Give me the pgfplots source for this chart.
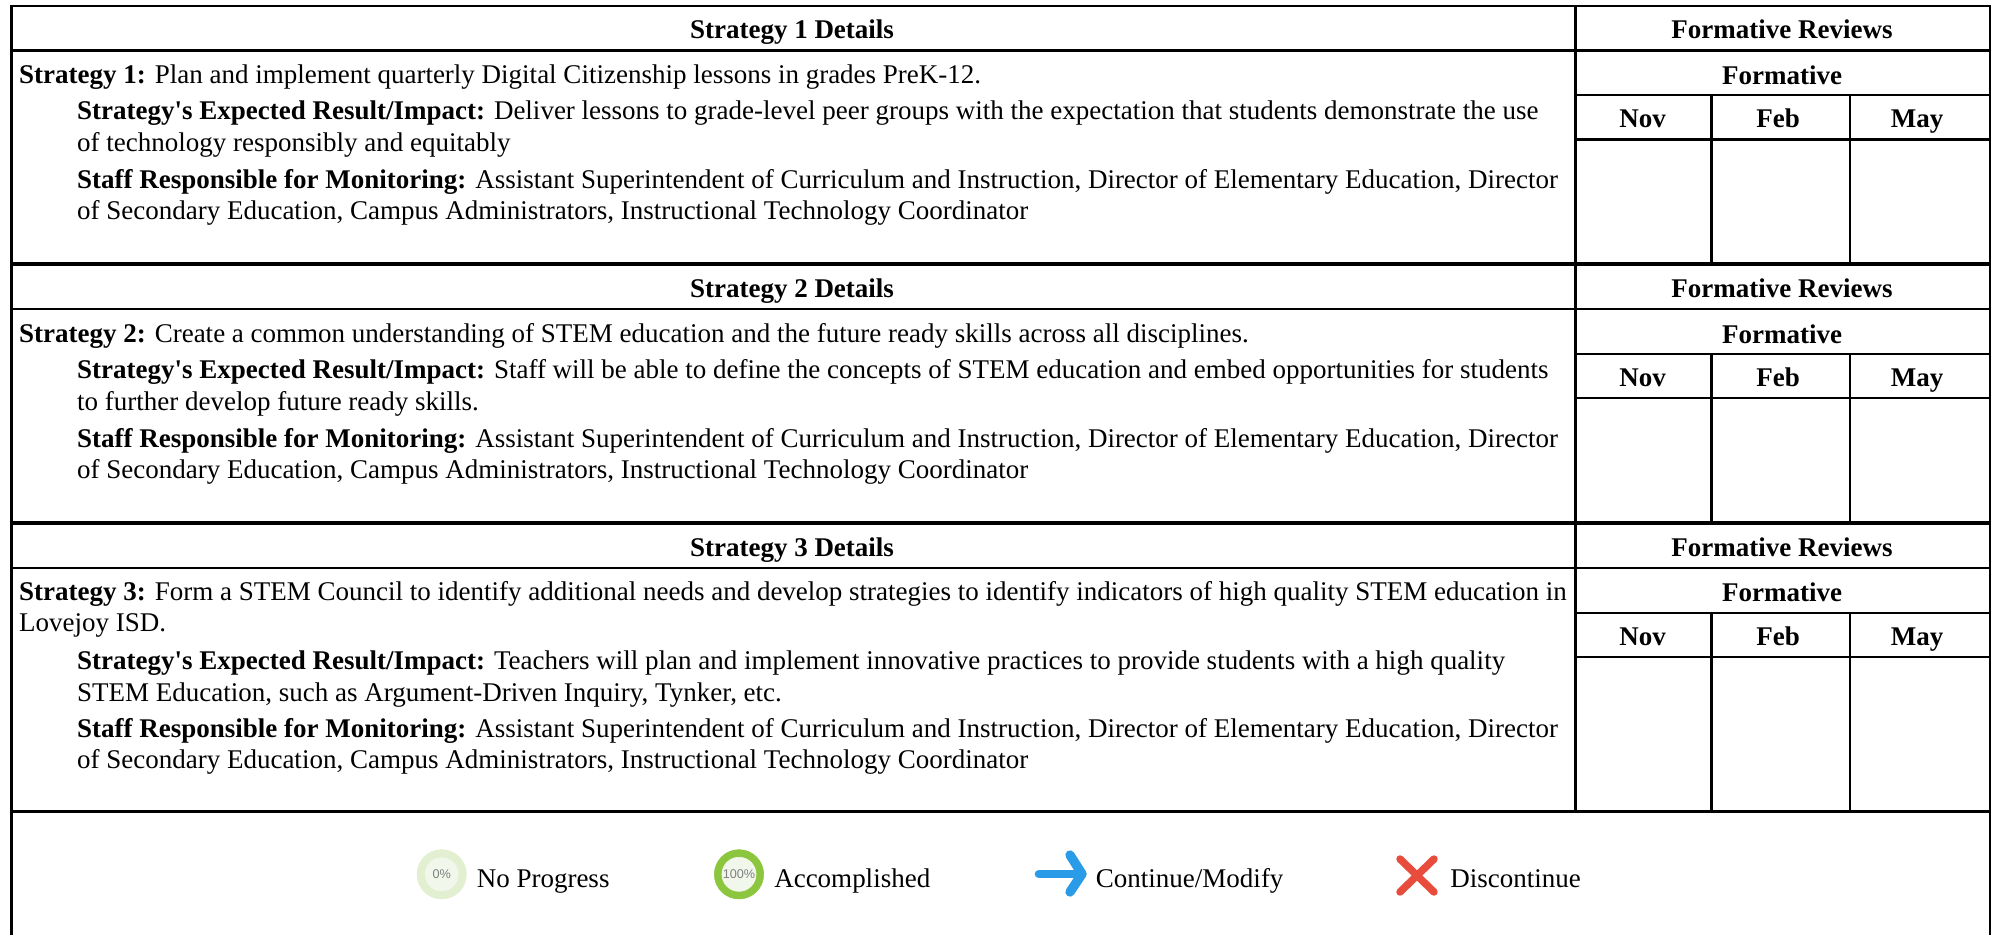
\documentclass[border=0pt]{standalone}
\usepackage{pgfplots}
\pgfplotsset{compat=1.18}
\usepackage{fontspec}
\setmainfont{Liberation Serif}
\newfontfamily\rawf{Liberation Serif}
\newfontfamily\sansf{Liberation Sans}
\definecolor{ringA}{HTML}{E2EFD0}
\definecolor{ringB}{HTML}{8CC63F}
\definecolor{inner}{HTML}{F1F7EA}
\definecolor{arrowc}{HTML}{2A9BE6}
\definecolor{crossc}{HTML}{E74C3C}
\definecolor{pctc}{HTML}{808080}
\newcommand{\Hl}[4]{\addplot[black,line width=#4*0.75pt,forget plot] coordinates {(#1,#3)(#2,#3)};}
\newcommand{\Vl}[4]{\addplot[black,line width=#4*0.75pt,forget plot] coordinates {(#3,#1)(#3,#2)};}
\newcommand{\Tx}[3]{\node[anchor=base west,inner sep=0pt,font=\rawf\fontsize{20.25}{24}\selectfont] at (axis cs:#1,#2) {#3};}
\newcommand{\Tc}[3]{\node[anchor=base,inner sep=0pt,font=\rawf\fontsize{20.25}{24}\selectfont\bfseries] at (axis cs:#1,#2) {#3};}
\newcommand{\Block}[8]{% top, hdr bottom, form line, months bottom, block bottom, title, hdr base, base of formative
  \Hl{1575.5}{1990}{#3}{2.4}
  \Hl{1575.5}{1990}{#4}{2.4}
  \Hl{11.5}{1990}{#2}{2.4}
  \Vl{#3}{#5}{1711.5}{2.2}
  \Vl{#3}{#5}{1850}{2.2}
  \Tc{792}{#7}{#6}
  \Tc{1782}{#7}{Formative Reviews}
  \Tc{1782}{#8}{Formative}
}
\pgfplotsset{pct/.style={only marks,mark=*,nodes near coords={#1},
  every node near coord/.style={anchor=center,inner sep=0pt,text=pctc,font=\sansf\fontsize{9.5}{10}\selectfont},
  forget plot}}
\begin{document}
\begin{tikzpicture}
\begin{axis}[
  width=1494.75pt,height=701.25pt,scale only axis,
  xmin=0,xmax=1993,ymin=0,ymax=935,y dir=reverse,
  hide axis,clip=false]
\addplot[draw=none,fill=white,forget plot] coordinates {(0,0)(1993,0)(1993,935)(0,935)};
% outer frame and rules
\Vl{5}{935}{11.5}{2.4}
\Vl{5}{935}{1990}{2.4}
\Vl{5}{812}{1575.5}{2.4}
\Hl{10.5}{1991}{6}{2.4}
\Hl{10.5}{1991}{263.5}{4}
\Hl{10.5}{1991}{522.5}{4}
\Hl{10.5}{1991}{811.7}{3}
% block 1
\Block{6}{50.5}{95}{139.5}{263.5}{Strategy 1 Details}{38.2}{84}
\Tc{1642.5}{127.7}{Nov}\Tc{1778}{127.7}{Feb}\Tc{1917}{127.7}{May}
\Tx{18.8}{83}{\textbf{Strategy 1:} Plan and implement quarterly Digital Citizenship lessons in grades PreK-12.}
\Tx{76.8}{119.8}{\textbf{Strategy's Expected Result/Impact:} Deliver lessons to grade-level peer groups with the expectation that students demonstrate the use}
\Tx{76.8}{151.3}{of technology responsibly and equitably}
\Tx{76.8}{188.2}{\textbf{Staff Responsible for Monitoring:} Assistant Superintendent of Curriculum and Instruction, Director of Elementary Education, Director}
\Tx{76.8}{219.3}{of Secondary Education, Campus Administrators, Instructional Technology Coordinator}
% block 2
\Block{265}{309}{354}{398}{522.5}{Strategy 2 Details}{297.2}{343}
\Tc{1642.5}{386.7}{Nov}\Tc{1778}{386.7}{Feb}\Tc{1917}{386.7}{May}
\Tx{18.8}{342}{\textbf{Strategy 2:} Create a common understanding of STEM education and the future ready skills across all disciplines.}
\Tx{76.8}{378.5}{\textbf{Strategy's Expected Result/Impact:} Staff will be able to define the concepts of STEM education and embed opportunities for students}
\Tx{76.8}{410}{to further develop future ready skills.}
\Tx{76.8}{447.2}{\textbf{Staff Responsible for Monitoring:} Assistant Superintendent of Curriculum and Instruction, Director of Elementary Education, Director}
\Tx{76.8}{478.7}{of Secondary Education, Campus Administrators, Instructional Technology Coordinator}
% block 3
\Block{524}{567.7}{613}{657}{811.7}{Strategy 3 Details}{556.2}{601}
\Tc{1642.5}{645.3}{Nov}\Tc{1778}{645.3}{Feb}\Tc{1917}{645.3}{May}
\Tx{18.8}{600}{\textbf{Strategy 3:} Form a STEM Council to identify additional needs and develop strategies to identify indicators of high quality STEM education in}
\Tx{18.8}{631}{Lovejoy ISD.}
\Tx{76.8}{669.2}{\textbf{Strategy's Expected Result/Impact:} Teachers will plan and implement innovative practices to provide students with a high quality}
\Tx{76.8}{701}{STEM Education, such as Argument-Driven Inquiry, Tynker, etc.}
\Tx{76.8}{737.2}{\textbf{Staff Responsible for Monitoring:} Assistant Superintendent of Curriculum and Instruction, Director of Elementary Education, Director}
\Tx{76.8}{768.7}{of Secondary Education, Campus Administrators, Instructional Technology Coordinator}
% legend
\addplot[ringA,only marks,mark=*,mark size=18.5pt,forget plot] coordinates {(441.7,874.3)};
\addplot[inner,pct={0\%},mark size=12.5pt] coordinates {(441.7,874.3)};
\addplot[ringB,only marks,mark=*,mark size=18.5pt,forget plot] coordinates {(739,874.3)};
\addplot[inner,pct={100\%},mark size=12.8pt] coordinates {(739,874.3)};
\addplot[arrowc,line width=6.5pt,line cap=round,forget plot] coordinates {(1039,874)(1082,874)};
\addplot[arrowc,line width=7pt,line cap=round,line join=round,forget plot] coordinates {(1070,855)(1082,874)(1070,892)};
\addplot[crossc,line width=5.6pt,line cap=round,forget plot] coordinates {(1400,859)(1434,892)};
\addplot[crossc,line width=5.6pt,line cap=round,forget plot] coordinates {(1434,859)(1400,892)};
\Tx{476.5}{887}{No Progress}
\Tx{774}{887}{Accomplished}
\Tx{1095.7}{887}{Continue/Modify}
\Tx{1450}{887}{Discontinue}
\end{axis}
\end{tikzpicture}
\end{document}
